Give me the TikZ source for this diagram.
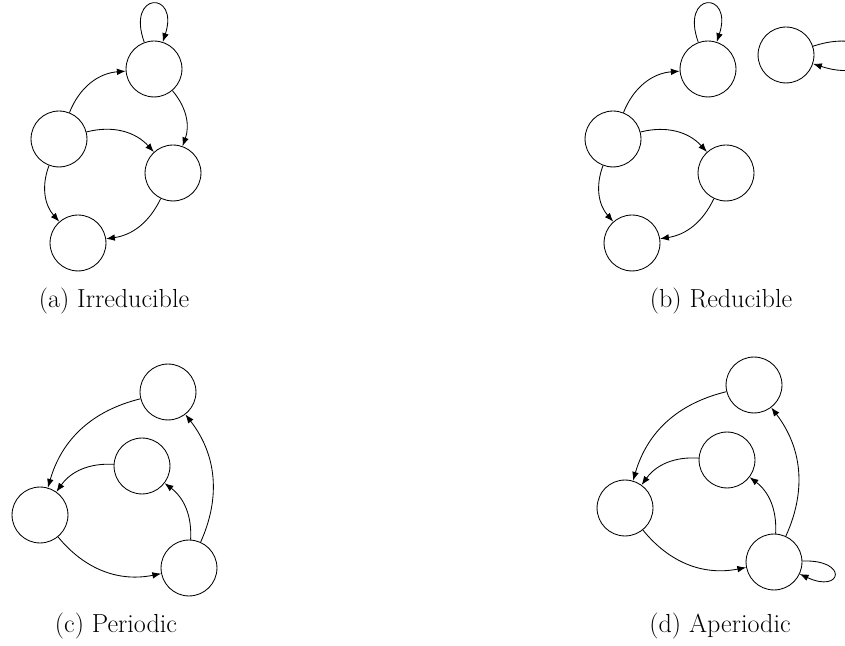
\documentclass[tikz,border=0pt]{standalone}
\usetikzlibrary{arrows.meta}
\tikzset{
  st/.style={circle,draw,line width=0.5pt,minimum size=33pt,inner sep=0pt},
  arr/.style={line width=0.5pt,-{Latex[length=5.2pt,width=3.9pt]}},
  captext/.style={font=\fontsize{15.4}{18}\selectfont,inner sep=0pt}
}
\begin{document}
\begin{tikzpicture}[x=0.59pt,y=0.59pt]
\useasboundingbox (0,0) rectangle (845,646);
% (a)
\node[st] (a1) at (59,507) {};
\node[st] (a2) at (154,577) {};
\node[st] (a3) at (173,473) {};
\node[st] (a4) at (78,403) {};
\draw[arr] (a1) to[bend left=32] (a2);
\draw[arr] (a2) to[bend left=30] (a3);
\draw[arr] (a1) to[bend left=31] (a3);
\draw[arr] (a1) to[bend right=31] (a4);
\draw[arr] (a3) to[bend left=28] (a4);
\draw[arr] (a2) to[out=110,in=72,looseness=7.5] (a2);
\node[captext] (capa) at (114,345) {(a) Irreducible};
% (b)
\node[st] (b1) at (613,507) {};
\node[st] (b2) at (708,577) {};
\node[st] (b3) at (726,473) {};
\node[st] (b4) at (632,403) {};
\node[st] (b5) at (786,591) {};
\draw[arr] (b1) to[bend left=32] (b2);
\draw[arr] (b1) to[bend left=31] (b3);
\draw[arr] (b1) to[bend right=31] (b4);
\draw[arr] (b3) to[bend left=28] (b4);
\draw[arr] (b2) to[out=110,in=72,looseness=7.5] (b2);
\draw[arr] (b5) to[out=18,in=-18,looseness=11] (b5);
\node[captext] (capb) at (721,345) {(b) Reducible};
% (c)
\node[st] (c1) at (168,254) {};
\node[st] (c2) at (142,180) {};
\node[st] (c3) at (40,131) {};
\node[st] (c4) at (189,78) {};
\draw[arr] (c1) to[bend right=30] (c3);
\draw[arr] (c2) to[bend right=29] (c3);
\draw[arr] (c3) to[bend right=31] (c4);
\draw[arr] (c4) to[bend right=28] (c2);
\draw[arr] (c4) to[bend right=31] (c1);
\node[captext] (capc) at (116,20) {(c) Periodic};
% (d)
\node[st] (d1) at (754,261) {};
\node[st] (d2) at (727,186) {};
\node[st] (d3) at (625,138) {};
\node[st] (d4) at (774,84) {};
\draw[arr] (d1) to[bend right=30] (d3);
\draw[arr] (d2) to[bend right=29] (d3);
\draw[arr] (d3) to[bend right=31] (d4);
\draw[arr] (d4) to[bend right=28] (d2);
\draw[arr] (d4) to[bend right=31] (d1);
\draw[arr] (d4) to[out=2,in=-25,looseness=9] (d4);
\node[captext] (capd) at (720,20) {(d) Aperiodic};
\end{tikzpicture}
\end{document}
